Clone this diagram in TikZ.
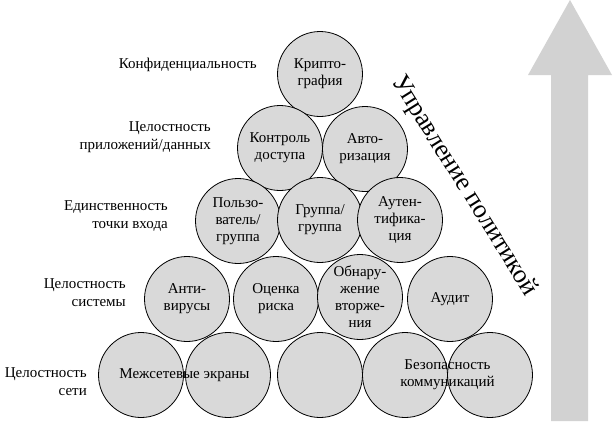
\documentclass[tikz,border=0pt]{standalone}
\usepackage{fontspec}
\setmainfont{Liberation Serif}
\usepackage{tikz}
\usetikzlibrary{calc}
\usetikzlibrary{positioning}

\begin{document}
\begin{tikzpicture}[x=1pt,y=-1pt,
        ball/.style={draw=black, line width=0.8pt, fill=gray!30, circle,
            minimum size=85pt, inner sep=0pt, align=center,
            font=\fontsize{15}{17}\selectfont},
        level/.style={anchor=east, align=right, inner sep=0pt,
            font=\fontsize{15}{18}\selectfont}]
            \useasboundingbox (0,0) rectangle (615,421);

            % Policy arrow
            \fill[gray!35] (551,421) -- (551,75) -- (528,75) -- (570,0)
                -- (612,75) -- (588,75) -- (588,421) -- cycle;

            % Top of the pyramid
            \node[ball] (crypt) at (320,74) {Крипто-\\графия};

            % Second row
            \node[ball] (access) at (280,148) {Контроль\\доступа};
            \node[ball] (authz) at (365,149) {Авто-\\ризация};

            % Third row
            \node[ball] (user) at (238,221) {Пользо-\\ватель/\\группа};
            \node[ball] (group) at (320,220) {Группа/\\группа};
            \node[ball] (authn) at (400,220) {Аутен-\\тифика-\\ция};

            % Fourth row
            \node[ball] (antivir) at (187,299) {Анти-\\вирусы};
            \node[ball] (risk) at (276,299) {Оценка\\риска};
            \node[ball] (ids) at (360,297) {Обнару-\\жение\\вторже-\\ния};
            \node[ball] (audit) at (450,299) {Аудит};

            % Bottom row
            \node[ball] (fwa) at (141,375) {};
            \node[ball] (fwb) at (228,375) {};
            \node[ball] (base) at (320,375) {};
            \node[ball] (comma) at (405,375) {};
            \node[ball] (commb) at (490,375) {};
            \node[align=center, font=\fontsize{15}{17}\selectfont] (fwtext)
                at ($(fwa)!0.5!(fwb)$) {Межсетевые экраны};
            \node[align=center, font=\fontsize{15}{17}\selectfont] (commtext)
                at ($(comma)!0.5!(commb)$) {Безопасность\\коммуникаций};

            % Levels
            \node[level] (conf) at (257,65) {Конфиденциальность};
            \node[level] (appint) at (211,137) {Целостность\\приложений/данных};
            \node[level] (single) at (168,216) {Единственность\\точки входа};
            \node[level] (sysint) at (126,293) {Целостность\\системы};
            \node[level] (netint) at (87,382) {Целостность\\сети};

            % Slanted caption
            \node[rotate=-58, font=\fontsize{26}{30}\selectfont] (policy)
                at (464,186) {Управление политикой};

        \end{tikzpicture}
\end{document}
